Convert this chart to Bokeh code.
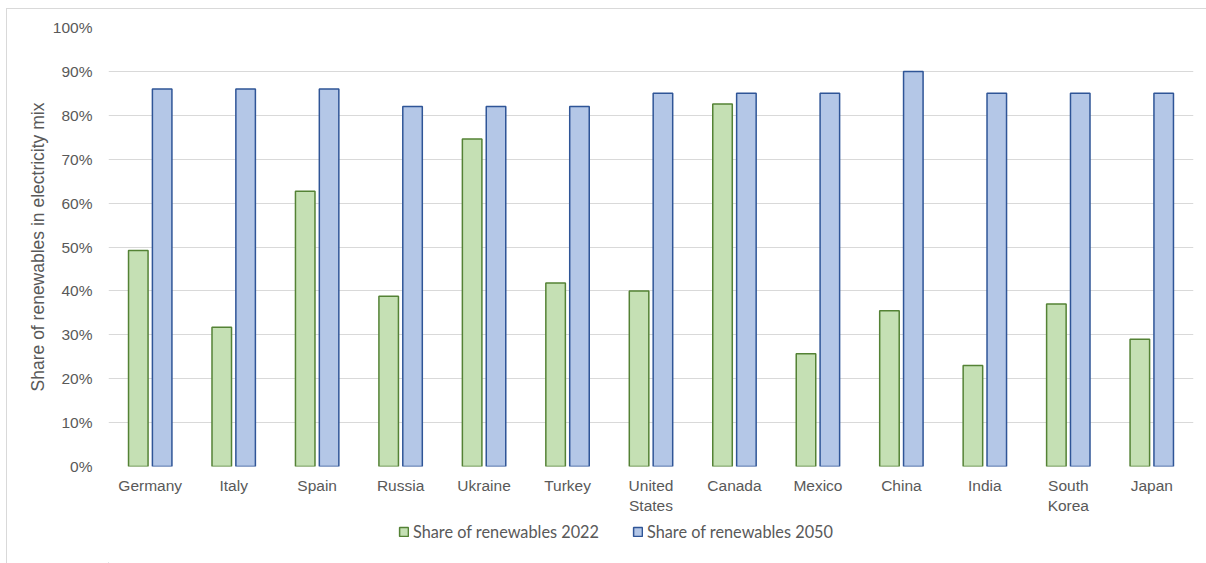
from bokeh.plotting import figure
from bokeh.layouts import column
from bokeh.models import (ColumnDataSource, FactorRange, NumeralTickFormatter, Legend, LegendItem,
                          FixedTicker)
from bokeh.transform import dodge
from bokeh.embed import file_html
from bokeh.resources import INLINE

countries = ["Germany", "Italy", "Spain", "Russia", "Ukraine", "Turkey", "United\nStates",
             "Canada", "Mexico", "China", "India", "South\nKorea", "Japan"]
share_2022 = [0.492, 0.317, 0.627, 0.388, 0.746, 0.418, 0.400, 0.826, 0.257, 0.355, 0.230, 0.370, 0.290]
share_2050 = [0.86, 0.86, 0.86, 0.82, 0.82, 0.82, 0.85, 0.85, 0.85, 0.90, 0.85, 0.85, 0.85]
y_ticks = [0.0, 0.1, 0.2, 0.3, 0.4, 0.5, 0.6, 0.7, 0.8, 0.9, 1.0]
series_labels = ["Share of renewables 2022", "Share of renewables 2050"]

source = ColumnDataSource(dict(country=countries, s2022=share_2022, s2050=share_2050))

TEXT = "#595959"
GRID = "#d9d9d9"
GREEN_FILL, GREEN_LINE = "#c5e0b4", "#548235"
BLUE_FILL, BLUE_LINE = "#b4c7e7", "#2f5597"

p = figure(
    x_range=FactorRange(*countries, range_padding=0),
    y_range=(0, 1.0),
    width=1199, height=507,
    output_backend="svg", toolbar_location=None,
    min_border_left=101, min_border_right=13, min_border_top=18, min_border_bottom=30,
)
p.outline_line_color = None
p.border_fill_color = "white"

p.vbar(x=dodge("country", -0.143, range=p.x_range), top="s2022", width=0.234, source=source,
       fill_color=GREEN_FILL, line_color=GREEN_LINE, line_width=1.5)
p.vbar(x=dodge("country", 0.143, range=p.x_range), top="s2050", width=0.234, source=source,
       fill_color=BLUE_FILL, line_color=BLUE_LINE, line_width=1.5)

p.yaxis.ticker = FixedTicker(ticks=y_ticks)
p.yaxis.formatter = NumeralTickFormatter(format="0%")
p.yaxis.axis_label = "Share of renewables in electricity mix"
p.yaxis.axis_label_text_font = "Liberation Sans"
p.yaxis.axis_label_text_font_style = "normal"
p.yaxis.axis_label_text_font_size = "17.5px"
p.yaxis.axis_label_text_color = TEXT
p.yaxis.axis_label_standoff = 2
p.yaxis.major_label_standoff = 10

for ax in (p.xaxis, p.yaxis):
    ax.axis_line_color = None
    ax.major_tick_line_color = None
    ax.minor_tick_line_color = None
    ax.major_label_text_font = "Liberation Sans"
    ax.major_label_text_font_size = "15.5px"
    ax.major_label_text_color = TEXT

p.xaxis.major_label_standoff = 4
p.xgrid.grid_line_color = None
p.ygrid.grid_line_color = GRID
p.ygrid.grid_line_width = 1.2

# Strip below the chart that carries the series legend
lf = figure(width=1199, height=47, output_backend="svg", toolbar_location=None,
            min_border=0, x_range=(0, 1), y_range=(0, 1))
lf.axis.visible = False
lf.grid.visible = False
lf.outline_line_color = None
key_src = ColumnDataSource(dict(x=[-10], top=[-5]))
k1 = lf.vbar(x="x", top="top", width=0.1, source=key_src, fill_color=GREEN_FILL,
             line_color=GREEN_LINE, line_width=1.5)
k2 = lf.vbar(x="x", top="top", width=0.1, source=key_src, fill_color=BLUE_FILL,
             line_color=BLUE_LINE, line_width=1.5)
legend = Legend(
    items=[LegendItem(label=series_labels[0], renderers=[k1]),
           LegendItem(label=series_labels[1], renderers=[k2])],
    orientation="horizontal",
    location=(290, 22),
    glyph_width=11, glyph_height=11,
    label_text_font="Lato", label_text_font_size="16.3px", label_text_color=TEXT,
    spacing=33, padding=0, margin=0, label_standoff=4,
    border_line_color=None, background_fill_alpha=0,
)
lf.add_layout(legend, "center")

page = column(p, lf, spacing=0)
page.styles = {"margin-left": "6px", "margin-top": "8px",
               "border-left": "1px solid #d9d9d9", "border-top": "1px solid #d9d9d9"}

open("out.html", "w").write(file_html(page, INLINE))
